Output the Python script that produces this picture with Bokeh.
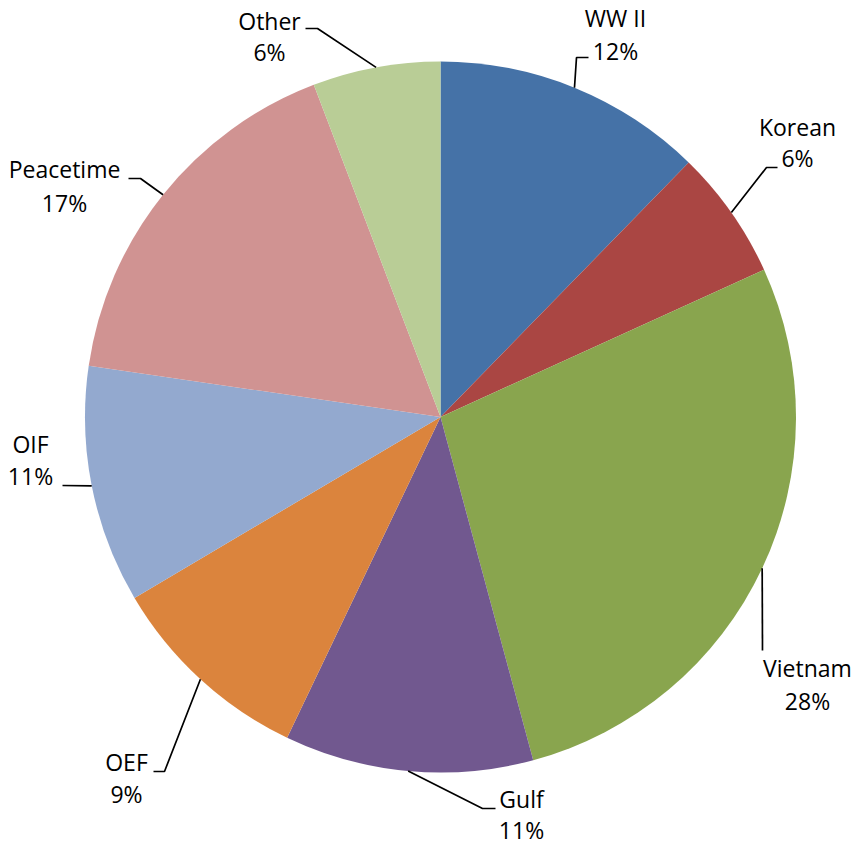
import math
from bokeh.plotting import figure
from bokeh.models import Range1d, ColumnDataSource
from bokeh.core.properties import value
from bokeh.embed import file_html
from bokeh.resources import INLINE

# ---- data ----
categories = ["WW II", "Korean", "Vietnam", "Gulf", "OEF", "OIF", "Peacetime", "Other"]
shares = [12.3, 5.9, 27.6, 11.3, 9.4, 10.8, 16.9, 5.8]
colors = ["#4572A7", "#AA4643", "#89A54E", "#71588F", "#DB843D", "#93A9CF", "#D09392", "#B9CD96"]

# ---- layout (pixel positions in the picture) ----
CX, CY, R = 440.0, 416.5, 355.5
# label centre x, baseline of name line, baseline of percent line
label_x = [615, 797, 807, 521, 126, 30, 64, 269]
name_base = [17, 126, 667, 798, 761, 443, 168, 20]
pct_base = [50, 157, 700, 829, 793, 475, 202, 51]
# leader line bend points after the point on the rim
leader_bends = [
    [(576, 57), (588, 57)],
    [(766, 167), (777, 167)],
    [(762, 650)],
    [(482, 808), (495, 808)],
    [(164, 771), (153, 771)],
    [(62, 485)],
    [(140, 178), (128, 178)],
    [(317, 28), (305, 28)],
]


def sx(X):
    return X - CX


def sy(Y):
    return CY - Y


total = sum(shares)
starts, ends, mids = [], [], []
cum = 0.0
for v in shares:
    a0 = math.pi / 2 - 2 * math.pi * cum / total
    cum += v
    a1 = math.pi / 2 - 2 * math.pi * cum / total
    starts.append(a0)
    ends.append(a1)
    mids.append((a0 + a1) / 2)

src = ColumnDataSource(dict(start=starts, end=ends, color=colors, cat=categories))

W, H = 852, 846
p = figure(width=W, height=H, output_backend="svg", toolbar_location=None,
           x_axis_type=None, y_axis_type=None, min_border=0,
           x_range=Range1d(sx(0), sx(W)), y_range=Range1d(sy(H), sy(0)))
p.outline_line_color = None
p.grid.visible = False
p.background_fill_color = "white"

p.wedge(x=0, y=0, radius=R, start_angle="start", end_angle="end", direction="clock",
        fill_color="color", line_color=None, source=src)

xs, ys = [], []
for m, bends in zip(mids, leader_bends):
    px = [R * math.cos(m)] + [sx(b[0]) for b in bends]
    py = [R * math.sin(m)] + [sy(b[1]) for b in bends]
    xs.append(px)
    ys.append(py)
p.multi_line(xs=xs, ys=ys, line_color="black", line_width=1.7)

pct_labels = [f"{round(v / total * 100)}%" for v in shares]
tsrc = ColumnDataSource(dict(
    x=[sx(x) for x in label_x],
    yn=[sy(y) for y in name_base],
    yp=[sy(y) for y in pct_base],
    name=categories,
    pct=pct_labels,
))
for col, ycol in (("name", "yn"), ("pct", "yp")):
    p.text(x="x", y=ycol, text=col, source=tsrc, text_align="center",
           text_baseline="alphabetic", text_font=value("Open Sans"),
           text_font_size="23px", text_color="black")

open("out.html", "w").write(file_html(p, INLINE))
